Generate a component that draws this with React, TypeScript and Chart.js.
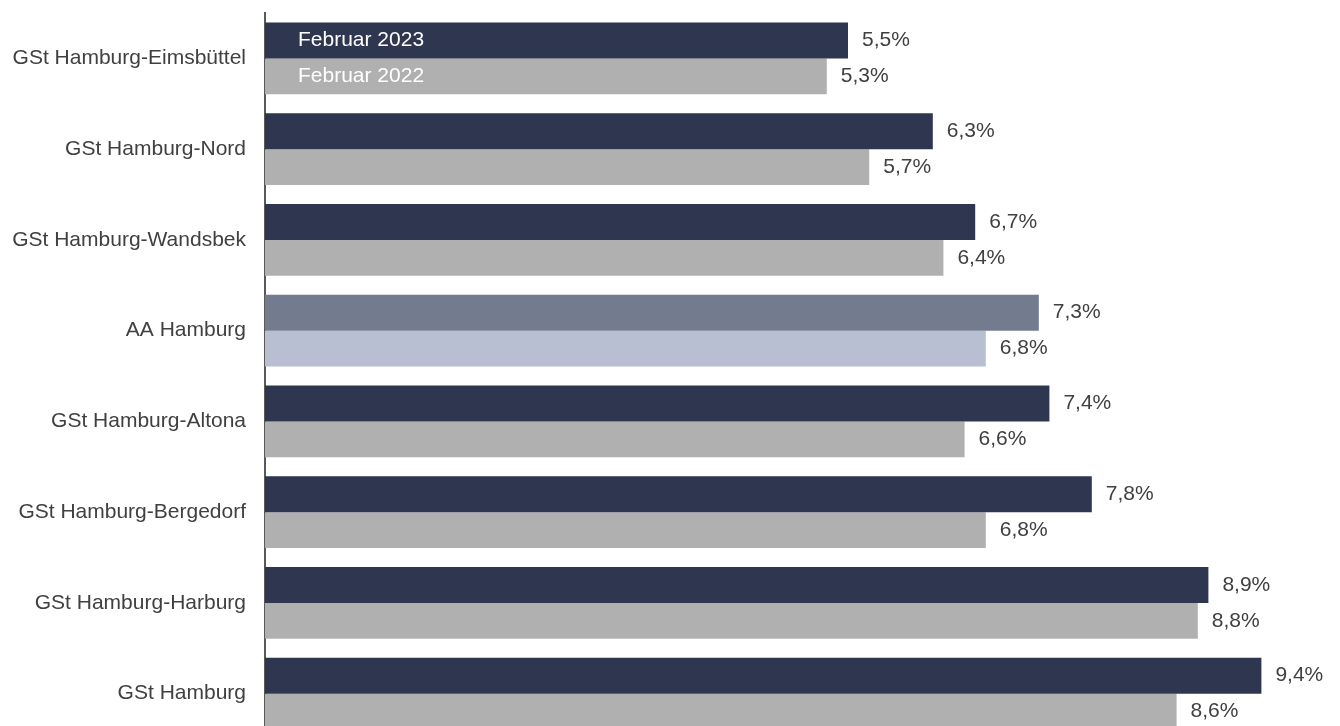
import React, { useEffect, useRef } from "react";
import { Chart, registerables } from "chart.js";

Chart.register(...registerables);

const categories = [
  "GSt Hamburg-Eimsbüttel",
  "GSt Hamburg-Nord",
  "GSt Hamburg-Wandsbek",
  "AA Hamburg",
  "GSt Hamburg-Altona",
  "GSt Hamburg-Bergedorf",
  "GSt Hamburg-Harburg",
  "GSt Hamburg",
];
const seriesNames = ["Februar 2023", "Februar 2022"];
const values2023 = [5.5, 6.3, 6.7, 7.3, 7.4, 7.8, 8.9, 9.4];
const values2022 = [5.3, 5.7, 6.4, 6.8, 6.6, 6.8, 8.8, 8.6];
const highlightCategory = "AA Hamburg";

const NAVY = "#2f3750";
const GRAY = "#b0b0b0";
const AA_DARK = "#737b8e";
const AA_LIGHT = "#b8bfd2";
const TEXT = "#404040";
const FONT = "'Liberation Sans', Arial, sans-serif";

const fmt = (v: number) => v.toFixed(1).replace(".", ",") + "%";

const labelPlugin = {
  id: "barLabels",
  afterDatasetsDraw(chart: any) {
    const ctx = chart.ctx;
    ctx.save();
    ctx.font = `21px ${FONT}`;
    ctx.textBaseline = "middle";
    chart.data.datasets.forEach((ds: any, di: number) => {
      const meta = chart.getDatasetMeta(di);
      meta.data.forEach((bar: any, i: number) => {
        const v = ds.data[i];
        ctx.fillStyle = TEXT;
        ctx.textAlign = "left";
        ctx.fillText(fmt(v), bar.x + 14, bar.y);
        if (i === 0) {
          ctx.fillStyle = "#ffffff";
          ctx.fillText(ds.label, chart.chartArea.left + 33, bar.y);
        }
      });
    });
    ctx.restore();
  },
};

export default function App() {
  const ref = useRef<HTMLCanvasElement | null>(null);
  useEffect(() => {
    if (!ref.current) return;
    const c1 = categories.map((c) => (c === highlightCategory ? AA_DARK : NAVY));
    const c2 = categories.map((c) => (c === highlightCategory ? AA_LIGHT : GRAY));
    const chart = new Chart(ref.current, {
      type: "bar",
      data: {
        labels: categories,
        datasets: [
          { label: seriesNames[0], data: values2023, backgroundColor: c1, borderWidth: 0 },
          { label: seriesNames[1], data: values2022, backgroundColor: c2, borderWidth: 0 },
        ],
      },
      options: {
        indexAxis: "y",
        responsive: false,
        animation: false,
        devicePixelRatio: 1,
        layout: { padding: { top: 13, bottom: 1, left: 0, right: 15 } },
        datasets: { bar: { categoryPercentage: 0.793, barPercentage: 1 } },
        plugins: { legend: { display: false }, tooltip: { enabled: false } },
        scales: {
          x: { display: false, min: 0, max: 10 },
          y: {
            afterFit: (s: any) => {
              s.width = 265;
              s.paddingTop = 0;
              s.paddingBottom = 0;
            },
            grid: { display: false, drawTicks: false },
            border: { display: true, color: "#595959", width: 2 },
            ticks: {
              padding: 19,
              color: TEXT,
              font: { family: FONT, size: 21 },
            },
          },
        },
      },
      plugins: [labelPlugin],
    });
    return () => chart.destroy();
  }, []);
  return (
    <div
      style={{
        position: "fixed",
        left: 0,
        top: 0,
        width: 1340,
        height: 726,
        overflow: "hidden",
        background: "#fff",
      }}
    >
      <canvas ref={ref} width={1340} height={740} style={{ display: "block", width: 1340, height: 740 }} />
    </div>
  );
}
